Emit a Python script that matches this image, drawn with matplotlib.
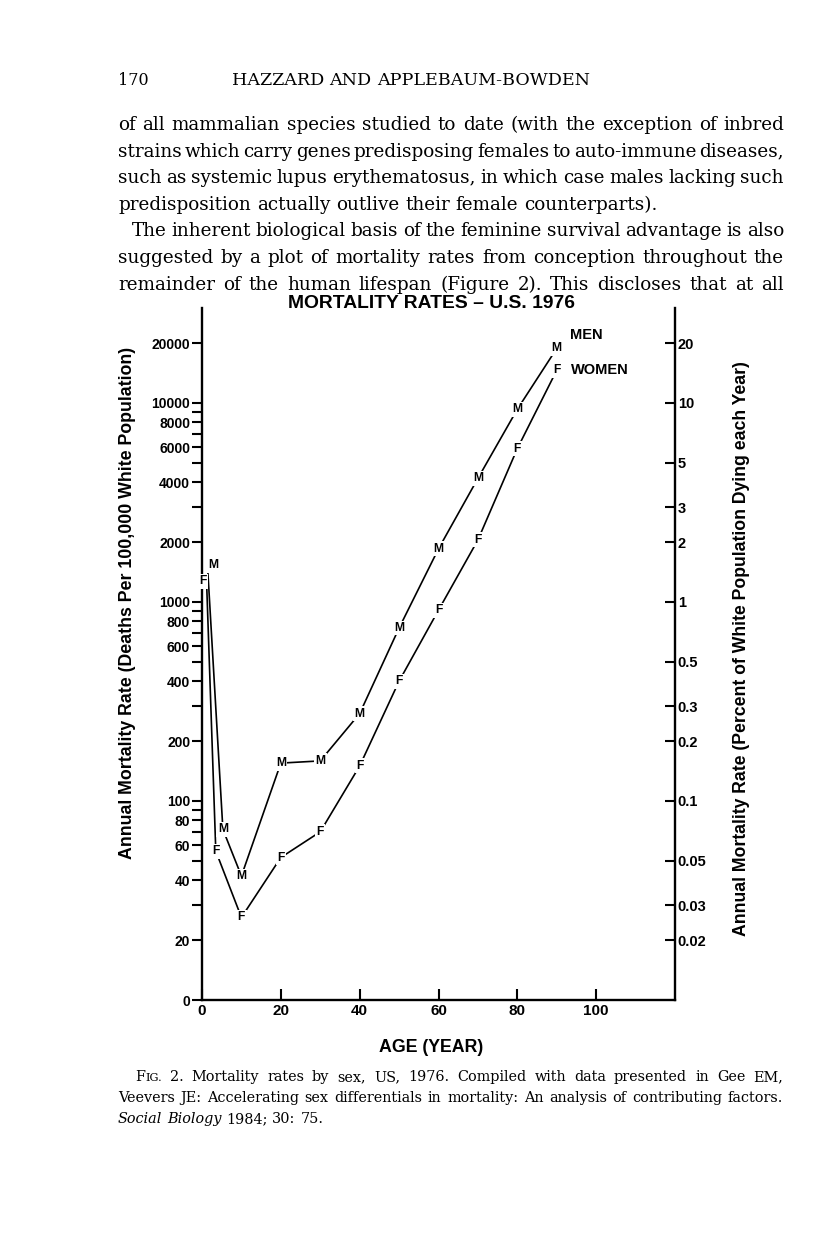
import matplotlib
matplotlib.use("Agg")
import matplotlib.pyplot as plt
from matplotlib.ticker import FixedLocator, FixedFormatter, NullFormatter, NullLocator

# ---------------- data ----------------
ages_m = [1.5, 5.3, 10, 20, 30, 40, 50, 60, 70, 80, 90]
rate_m = [1400, 72, 42, 155, 159, 275, 740, 1850, 4180, 9300, 18800]
ages_f = [1.2, 3.5, 10, 20, 30, 40, 50, 60, 70, 80, 90]
rate_f = [1200, 56, 26, 52, 70, 150, 400, 910, 2050, 5900, 14600]

left_ticks = [10, 20, 40, 60, 80, 100, 200, 400, 600, 800, 1000, 2000,
              4000, 6000, 8000, 10000, 20000]
left_labels = ["0", "20", "40", "60", "80", "100", "200", "400", "600", "800",
               "1000", "2000", "4000", "6000", "8000", "10000", "20000"]
left_minor = [30, 50, 70, 90, 300, 500, 700, 900, 3000, 5000, 7000, 9000]
right_ticks = [0.02, 0.03, 0.05, 0.1, 0.2, 0.3, 0.5, 1, 2, 3, 5, 10, 20]
right_labels = ["0.02", "0.03", "0.05", "0.1", "0.2", "0.3", "0.5", "1", "2",
                "3", "5", "10", "20"]
x_ticks = [0, 20, 40, 60, 80, 100]

title = "MORTALITY RATES \u2013 U.S. 1976"
xlabel = "AGE (YEAR)"
ylabel_left = "Annual Mortality Rate (Deaths Per 100,000 White Population)"
ylabel_right = "Annual Mortality Rate (Percent of White Population Dying each Year)"

page_number = "170"
running_head = "HAZZARD AND APPLEBAUM-BOWDEN"
body_lines = [
    "of all mammalian species studied to date (with the exception of inbred",
    "strains which carry genes predisposing females to auto-immune diseases,",
    "such as systemic lupus erythematosus, in which case males lacking such",
    "predisposition actually outlive their female counterparts).",
    "The inherent biological basis of the feminine survival advantage is also",
    "suggested by a plot of mortality rates from conception throughout the",
    "remainder of the human lifespan (Figure 2). This discloses that at all",
]
caption_lines = [
    "FIG. 2. Mortality rates by sex, US, 1976. Compiled with data presented in Gee EM,",
    "Veevers JE: Accelerating sex differentials in mortality: An analysis of contributing factors.",
    "Social Biology 1984; 30: 75.",
]

# ---------------- figure ----------------
W, H = 816, 1255
plt.rcParams["font.family"] = ["Liberation Sans", "DejaVu Sans"]
fig = plt.figure(figsize=(W / 100, H / 100), dpi=100)
fig.patch.set_facecolor("white")


def fx(x):
    return x / W


def fy(y):
    return 1 - y / H


ax = fig.add_axes([fx(202), fy(1000), (675 - 202) / W, (1000 - 308) / H])
ax.set_xlim(0, 120)
ax.set_yscale("log")
ax.set_ylim(10, 30000)
ax.spines["top"].set_visible(False)
ax.spines["right"].set_visible(False)
for s in ["left", "bottom"]:
    ax.spines[s].set_linewidth(1.7)

ax.plot(ages_m, rate_m, color="black", lw=1.2, zorder=2)
ax.plot(ages_f, rate_f, color="black", lw=1.2, zorder=2)

letter_kw = dict(ha="center", va="center", fontsize=8.7, weight="bold",
                 textcoords="offset points", zorder=4,
                 bbox=dict(boxstyle="square,pad=0.12", fc="white", ec="none"))
for i, (a, v) in enumerate(zip(ages_m, rate_m)):
    off = (3.5, 5.5) if i == 0 else (0, 0)
    ax.annotate("M", (a, v), xytext=off, **letter_kw)
for i, (a, v) in enumerate(zip(ages_f, rate_f)):
    off = (-3.0, 3.5) if i == 0 else (0, 0)
    ax.annotate("F", (a, v), xytext=off, **letter_kw)

ax.annotate("MEN", (ages_m[-1], rate_m[-1]), xytext=(9.5, 9.5),
            textcoords="offset points", ha="left", va="center",
            fontsize=10.5, weight="bold")
ax.annotate("WOMEN", (ages_f[-1], rate_f[-1]), xytext=(10.5, 0),
            textcoords="offset points", ha="left", va="center",
            fontsize=10.5, weight="bold")

ax.yaxis.set_major_locator(FixedLocator(left_ticks))
ax.yaxis.set_major_formatter(FixedFormatter(left_labels))
ax.yaxis.set_minor_locator(FixedLocator(left_minor))
ax.yaxis.set_minor_formatter(NullFormatter())
ax.tick_params(axis="y", which="both", direction="out", length=7.5, width=1.5,
               labelsize=10, pad=1)
for lab in ax.get_yticklabels():
    lab.set_fontweight("bold")

ax.set_xticks(x_ticks)
ax.set_xticklabels([str(t) for t in x_ticks])
ax.tick_params(axis="x", direction="in", length=8, width=1.5, labelsize=11, pad=3)
for lab in ax.get_xticklabels():
    lab.set_fontweight("bold")

ax2 = ax.twinx()
ax2.set_yscale("log")
ax2.set_ylim(0.01, 30)
for s in ["top", "left", "bottom"]:
    ax2.spines[s].set_visible(False)
ax2.spines["right"].set_linewidth(1.7)
ax2.yaxis.set_major_locator(FixedLocator(right_ticks))
ax2.yaxis.set_major_formatter(FixedFormatter(right_labels))
ax2.yaxis.set_minor_locator(NullLocator())
ax2.tick_params(axis="y", direction="in", length=7.5, width=1.5, labelsize=10.5, pad=2)
for lab in ax2.get_yticklabels():
    lab.set_fontweight("bold")

fig.text(fx(431), fy(303), title, ha="center", va="center", fontsize=13.9, weight="bold")
fig.text(fx(431), fy(1048), xlabel, ha="center", va="center", fontsize=12.8,
         weight="bold")
fig.text(fx(128), fy(603), ylabel_left, ha="center", va="center", rotation=90,
         fontsize=12.8, weight="bold")
fig.text(fx(742), fy(649), ylabel_right, ha="center", va="center", rotation=90,
         fontsize=12.7, weight="bold")

# ---------------- page text ----------------
renderer = fig.canvas.get_renderer()
serif = ["DejaVu Serif"]


def width_of(t):
    return t.get_window_extent(renderer=renderer).width


def word_parts(word, fs):
    if word == "FIG.":
        return [("F", {}), ("IG.", {"fontsize": fs * 0.78})]
    if word in ("Social", "Biology"):
        return [(word, {"style": "italic"})]
    return [(word, {})]


def place_line(text, x0, y, fs, x1=None):
    words = text.split(" ")
    base = dict(fontsize=fs, family=serif, ha="left", va="baseline")
    objs = []
    widths = []
    for w in words:
        parts = []
        tw = 0
        for s, p in word_parts(w, fs):
            kw = dict(base)
            kw.update(p)
            t = fig.text(0, 0, s, **kw)
            pw = width_of(t)
            parts.append((t, pw))
            tw += pw
        objs.append(parts)
        widths.append(tw)
    if x1 is None or len(words) < 2:
        a = fig.text(0, 0, "x x", **base)
        b = fig.text(0, 0, "xx", **base)
        gap = width_of(a) - width_of(b)
        a.remove()
        b.remove()
    else:
        gap = (x1 - x0 - sum(widths)) / (len(words) - 1)
    cx = x0
    for parts, tw in zip(objs, widths):
        px = cx
        for t, pw in parts:
            t.set_position((fx(px), fy(y)))
            px += pw
        cx += tw + gap


body_fs = 13.2
fig.text(fx(118), fy(85), page_number, ha="left", va="baseline", fontsize=11.5,
         family=serif)
place_line(running_head, 232, 85, 12.6, x1=590)

body_specs = [(118, 784), (118, 784), (118, 784), (118, None),
              (132, 784), (118, 784), (118, 784)]
for i, (line, (x0, x1)) in enumerate(zip(body_lines, body_specs)):
    place_line(line, x0, 130 + i * 26.6, body_fs, x1)

cap_fs = 10.4
cap_specs = [(135, 783), (118, 783), (118, None)]
for i, (line, (x0, x1)) in enumerate(zip(caption_lines, cap_specs)):
    place_line(line, x0, 1081 + i * 21, cap_fs, x1)

fig.savefig("out.png", dpi=100, facecolor="white")
